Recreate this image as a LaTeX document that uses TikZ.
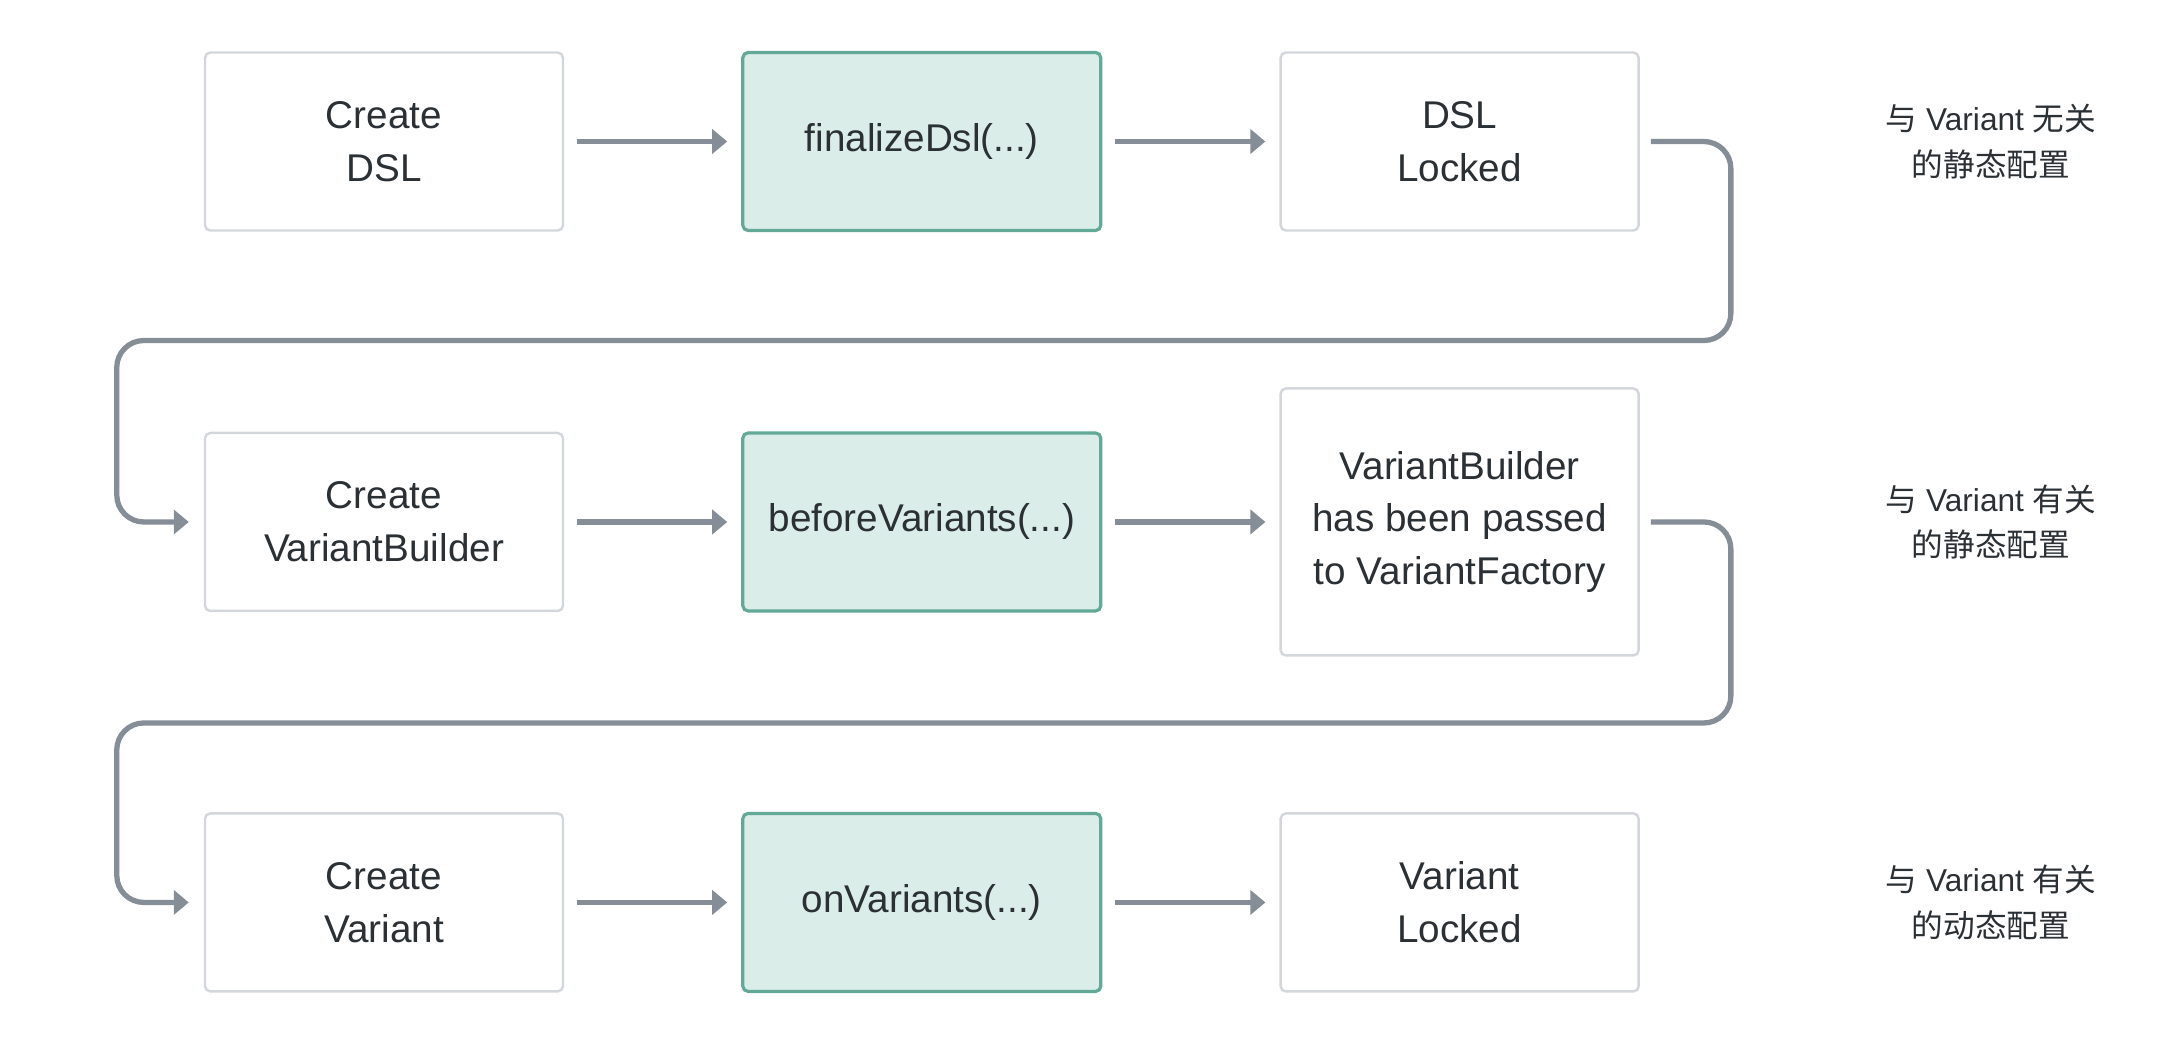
\documentclass[tikz,border=0pt]{standalone}
\usepackage{fontspec}
\setmainfont{Liberation Sans}
\newfontfamily\cjk{Noto Sans CJK SC}
\usetikzlibrary{arrows.meta,positioning}
\definecolor{boxline}{HTML}{D3D7DC}
\definecolor{hookfill}{HTML}{DAEDE8}
\definecolor{hookline}{HTML}{62A998}
\definecolor{flowgray}{HTML}{858D96}
\definecolor{txt}{HTML}{2B3035}

\begin{document}
\begin{tikzpicture}
  [
   node distance=2.0cm and 1.77cm,
   pn/.style={rectangle,draw=boxline,line width=0.7pt,fill=white,rounded corners=1.5pt,minimum width=3.58cm,minimum height=1.78cm,align=center,text=txt,font=\fontsize{11}{15}\selectfont},
   hn/.style={pn,draw=hookline,fill=hookfill,line width=0.9pt},
   ln/.style={align=center,text=txt,font=\fontsize{9}{13}\selectfont},
   fl/.style={-{Triangle[length=1.5mm,width=2.4mm]},draw=flowgray,line width=1.5pt,shorten <=1.3mm,shorten >=1.4mm},
   wl/.style={fl,rounded corners=2.7mm,shorten <=1.1mm,shorten >=1.5mm}
  ]
   \useasboundingbox (0,0) rectangle (21.76,-10.50);

   \node[pn] (r1a) at (3.84,-1.415) {Create\\DSL};
   \node[hn] (r1b) [right=of r1a] {finalizeDsl(...)};
   \node[pn] (r1c) [right=of r1b] {DSL\\Locked};

   \node[pn] (r2a) [below=of r1a] {Create\\VariantBuilder};
   \node[hn] (r2b) [right=of r2a] {beforeVariants(...)};
   \node[pn,minimum height=2.67cm] (r2c) [right=of r2b] {VariantBuilder\\has been passed\\to VariantFactory};

   \node[pn] (r3a) [below=of r2a] {Create\\Variant};
   \node[hn] (r3b) [right=of r3a] {onVariants(...)};
   \node[pn] (r3c) [right=of r3b] {Variant\\Locked};

   \node[ln] (n1) at ([xshift=3.51cm]r1c.east) {{\cjk 与} Variant {\cjk 无关}\\{\cjk 的静态配置}};
   \node[ln] (n2) at ([xshift=3.51cm]r2c.east) {{\cjk 与} Variant {\cjk 有关}\\{\cjk 的静态配置}};
   \node[ln] (n3) at ([xshift=3.51cm]r3c.east) {{\cjk 与} Variant {\cjk 有关}\\{\cjk 的动态配置}};

   \draw[fl] (r1a) -- (r1b);
   \draw[fl] (r1b) -- (r1c);
   \draw[fl] (r2a) -- (r2b);
   \draw[fl] (r2b) -- (r2c);
   \draw[fl] (r3a) -- (r3b);
   \draw[fl] (r3b) -- (r3c);

   \draw[wl] (r1c.east) -- ++(0.91,0) -- ++(0,-1.99) -| ([xshift=-0.87cm]r2a.west) -- (r2a.west);
   \draw[wl] (r2c.east) -- ++(0.91,0) -- ++(0,-2.01) -| ([xshift=-0.87cm]r3a.west) -- (r3a.west);

\end{tikzpicture}
\end{document}
